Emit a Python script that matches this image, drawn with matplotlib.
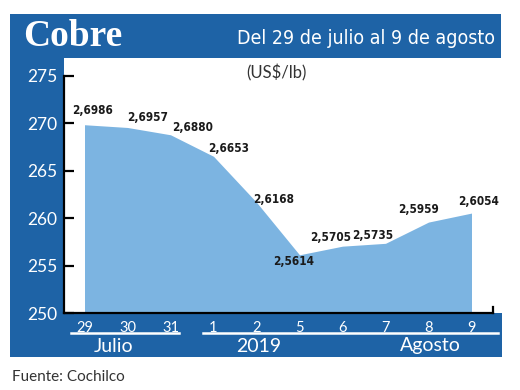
import matplotlib
matplotlib.use("Agg")
import matplotlib.pyplot as plt
from matplotlib.patches import Rectangle
from matplotlib.lines import Line2D

# Data: copper price, US$/lb (plotted in cents)
dias = ["29", "30", "31", "1", "2", "5", "6", "7", "8", "9"]
precios = [2.6986, 2.6957, 2.6880, 2.6653, 2.6168, 2.5614, 2.5705, 2.5735, 2.5959, 2.6054]
etiquetas = ["2,6986", "2,6957", "2,6880", "2,6653", "2,6168",
             "2,5614", "2,5705", "2,5735", "2,5959", "2,6054"]
y_ticks = [250, 255, 260, 265, 270, 275]

# label offsets in pixels (dx, dy)
offsets = [(8, 14), (20, 10), (22, 7), (15, 8), (17, 3),
           (-6, -7), (-12, 9), (-13, 8), (-10, 13), (7, 12)]

W, H = 520, 390
DARK = "#1e63a6"
LIGHT = "#7cb4e1"
sans = ["Lato", "DejaVu Sans"]


def fx(x):
    return x / W


def fy(y):
    return 1 - y / H


fig = plt.figure(figsize=(W / 100, H / 100), dpi=100)
fig.patch.set_facecolor("white")

# blue frame pieces
for (x0, y0, x1, y1) in [(10, 14, 501, 58), (10, 58, 64, 357), (10, 313, 502, 357)]:
    fig.add_artist(Rectangle((fx(x0), fy(y1)), fx(x1) - fx(x0), fy(y0) - fy(y1),
                             transform=fig.transFigure, color=DARK, lw=0, zorder=0))

# plot axes
ax_l, ax_r, ax_t, ax_b = 64, 493, 58, 313
ax = fig.add_axes([fx(ax_l), fy(ax_b), fx(ax_r) - fx(ax_l), fy(ax_t) - fy(ax_b)])
ax.set_facecolor("none")

x = list(range(len(dias)))
vals = [p * 100 for p in precios]
ax.fill_between(x, 250, vals, color=LIGHT, lw=0, zorder=1)

px_per_unit = 9.48
ax.set_ylim(250, 250 + (ax_b - ax_t) / px_per_unit)
step = 43.0
x0_px = 84.5
ax.set_xlim(-(x0_px - ax_l) / step, 9 + (ax_r - (x0_px + 9 * step)) / step)

for i, (v, lab) in enumerate(zip(vals, etiquetas)):
    ax.annotate(lab, (i, v), xytext=offsets[i], textcoords="offset pixels",
                ha="center", va="center", fontsize=8.5, fontweight="bold",
                family="DejaVu Sans", fontstretch="condensed", color="#1a1a1a", zorder=3)

for s in ["top", "right"]:
    ax.spines[s].set_visible(False)
ax.spines["left"].set_linewidth(1.6)
ax.spines["bottom"].set_linewidth(1.6)
ax.spines["left"].set_bounds(250, 275)

ax.set_yticks(y_ticks)
ax.set_yticklabels([str(t) for t in y_ticks])
ax.tick_params(axis="y", direction="in", length=7, width=1.6, pad=5,
               labelcolor="white", labelsize=12.5)
ax.set_xticks(x)
ax.set_xticklabels(dias)
ax.tick_params(axis="x", length=0, pad=6, labelcolor="white", labelsize=10.5)
for t in ax.get_xticklabels() + ax.get_yticklabels():
    t.set_family(sans)

# small end tick at right of the baseline
ax.add_line(Line2D([1, 1], [0, 6 / (ax_b - ax_t)], transform=ax.transAxes,
                   color="black", lw=1.6, clip_on=False))

# month group lines and labels
for (a, b) in [(71, 179), (203, 498)]:
    fig.add_artist(Line2D([fx(a), fx(b)], [fy(333), fy(333)], transform=fig.transFigure,
                          color="white", lw=1.8))
for (txt, cx) in [("Julio", 114), ("2019", 259), ("Agosto", 430)]:
    fig.text(fx(cx), fy(346), txt, ha="center", va="center", color="white",
             fontsize=14, family=sans)

# header texts
fig.text(fx(23), fy(37), "Cobre", ha="left", va="center", color="white",
         fontsize=27, fontweight="bold", family=["Liberation Serif"])
fig.text(fx(495), fy(38), "Del 29 de julio al 9 de agosto", ha="right", va="center",
         color="white", fontsize=14, family="DejaVu Sans", fontstretch="condensed")
fig.text(fx(276), fy(73), "(US$/lb)", ha="center", va="center", color="#333333",
         fontsize=12, family=sans)
fig.text(fx(12), fy(377), "Fuente: Cochilco", ha="left", va="center", color="#333333",
         fontsize=11, family=sans)

fig.savefig("out.png", dpi=100)
